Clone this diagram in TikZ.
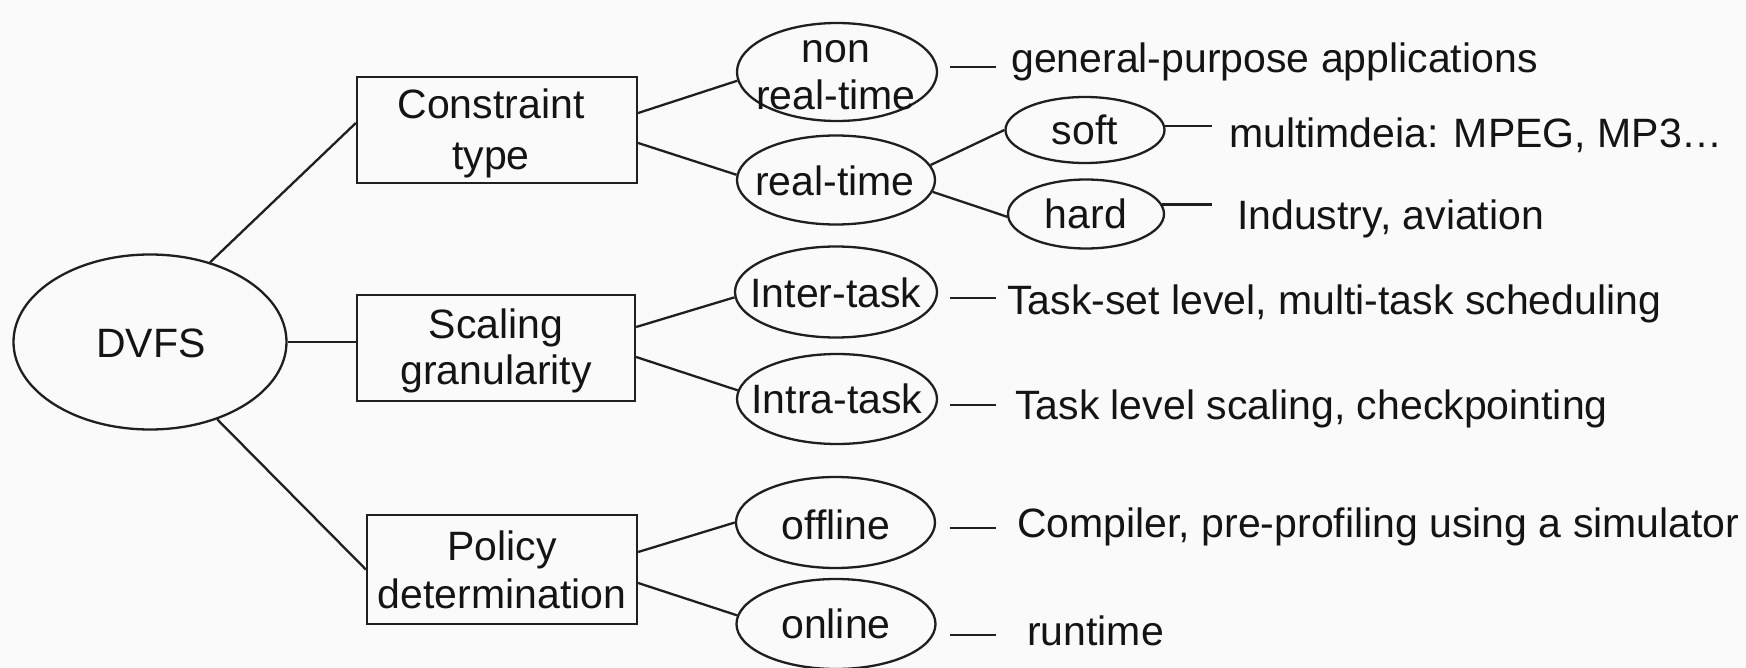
\documentclass[tikz,border=0pt]{standalone}
\usepackage{fontspec}
\setmainfont{Liberation Sans}
\usetikzlibrary{shapes.geometric}

% two centred lines, aligned on the baseline of the first one
\newcommand\twolines[3][0pt]{\begin{tabular}[t]{@{}c@{}}#2\\[#1]#3\end{tabular}}

\tikzset{
  every picture/.style={x=1pt,y=1pt},
  line/.style={draw=black!88, line width=2.3pt},
  catbox/.style={rectangle, line, inner sep=0pt},
  leaf/.style={ellipse, line, inner sep=0pt},
  txt/.style={inner sep=0pt, anchor=base, text=black!92,
    font=\fontsize{41}{47}\selectfont},
  note/.style={txt, anchor=base west},
}

\begin{document}
\begin{tikzpicture}
  % canvas
  \fill[white!98!black] (0,0) rectangle (1746,-668);
  \useasboundingbox (0,0) rectangle (1746,-668);

  % root
  \node[leaf, minimum width=273, minimum height=175] (dvfs) at (150,-342) {};
  \node[txt] (dvfs-t) at (151,-358) {DVFS};

  % categories
  \node[catbox, minimum width=280, minimum height=106] (ct) at (497,-130) {};
  \node[txt] (ct-t) at (491,-119) {\twolines[4pt]{Constraint}{type}};

  \node[catbox, minimum width=278, minimum height=106] (sg) at (496,-348) {};
  \node[txt] (sg-t) at (496,-338) {\twolines{Scaling}{granularity}};

  \node[catbox, minimum width=270, minimum height=109] (pd) at (502,-569.5) {};
  \node[txt] (pd-t) at (502,-560) {\twolines[1pt]{Policy}{determination}};

  % second level
  \node[leaf, minimum width=200, minimum height=98] (nrt) at (837,-72) {};
  \node[txt] (nrt-t) at (836,-63) {\twolines{non}{real-time}};

  \node[leaf, minimum width=198, minimum height=89] (rt) at (836,-180) {};
  \node[txt] (rt-t) at (835,-196) {real-time};

  \node[leaf, minimum width=202, minimum height=91] (it) at (836,-292) {};
  \node[txt] (it-t) at (836,-308) {Inter-task};

  \node[leaf, minimum width=200, minimum height=90] (ia) at (837,-399) {};
  \node[txt] (ia-t) at (837,-413) {Intra-task};

  \node[leaf, minimum width=199, minimum height=91] (off) at (835.5,-522.5) {};
  \node[txt] (off-t) at (836,-539) {offline};

  \node[leaf, minimum width=199, minimum height=90] (on) at (836,-624) {};
  \node[txt] (on-t) at (836,-638) {online};

  % third level
  \node[leaf, minimum width=159, minimum height=66] (soft) at (1085,-130) {};
  \node[txt] (soft-t) at (1085,-145) {soft};

  \node[leaf, minimum width=156, minimum height=69] (hard) at (1086,-214) {};
  \node[txt] (hard-t) at (1086,-229) {hard};

  % descriptions
  \node[note] (d-gp)   at (1011,-73)  {general-purpose applications};
  \node[note] (d-mm)   at (1229,-148) {multimdeia: MPEG, MP3\ldots};
  \node[note] (d-ind)  at (1237,-230) {Industry, aviation};
  \node[note] (d-ts)   at (1007,-315) {Task-set level, multi-task scheduling};
  \node[note] (d-tl)   at (1015,-419) {Task level scaling, checkpointing};
  \node[note] (d-cp)   at (1017,-537) {Compiler, pre-profiling using a simulator};
  \node[note] (d-rt)   at (1027,-645) {runtime};

  % ends of the short leader strokes
  \coordinate (g1a) at (950,-67);  \coordinate (g1b) at (996,-67);
  \coordinate (g4a) at (950,-298); \coordinate (g4b) at (996,-298);
  \coordinate (g5a) at (950,-405); \coordinate (g5b) at (996,-405);
  \coordinate (g6a) at (950,-528); \coordinate (g6b) at (996,-528);
  \coordinate (g7a) at (950,-635); \coordinate (g7b) at (996,-635);
  \coordinate (e-soft) at (1212,-127);
  \coordinate (e-hard) at (1212,-205);

  % tree edges
  \draw[line] (dvfs.53) -- ([yshift=7]ct.west);
  \draw[line] (dvfs.east) -- (dvfs.east -| sg.west);
  \draw[line] (dvfs.311) -- (pd.west);

  \draw[line] ([yshift=17]ct.east) -- (nrt.185);
  \draw[line] ([yshift=-13]ct.east) -- (rt.177);
  \draw[line] (rt.9) -- (soft.west);
  \draw[line] (rt.353) -- (hard.182);

  \draw[line] ([yshift=21]sg.east) -- (it.183);
  \draw[line] ([yshift=-9]sg.east) -- (ia.175);

  \draw[line] ([yshift=17.5]pd.east) -- (off.west);
  \draw[line] ([yshift=-13.5]pd.east) -- (on.175);

  % leaders to the descriptions
  \draw[line] (g1a) -- (g1b);
  \draw[line] (soft.3) -- (soft.3 -| e-soft);
  \draw[line] (hard.7) -- (hard.7 -| e-hard);
  \draw[line] (g4a) -- (g4b);
  \draw[line] (g5a) -- (g5b);
  \draw[line] (g6a) -- (g6b);
  \draw[line] (g7a) -- (g7b);
\end{tikzpicture}
\end{document}
